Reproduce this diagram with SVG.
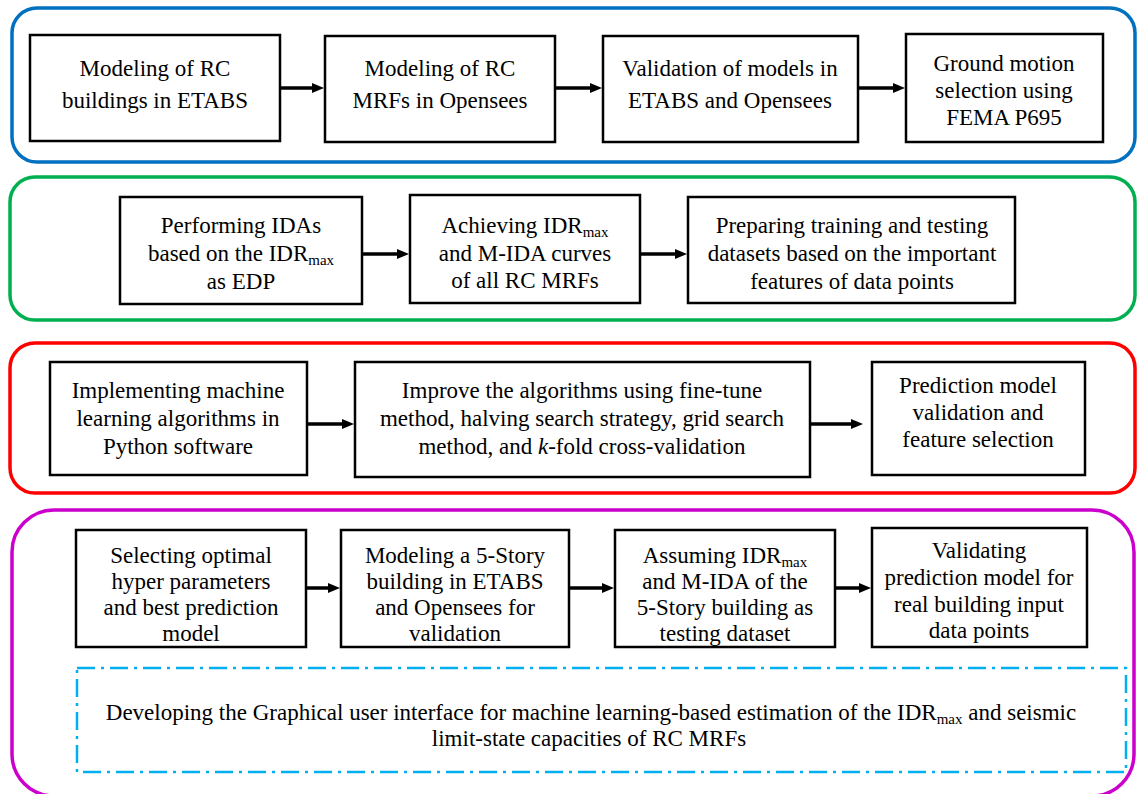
<svg xmlns="http://www.w3.org/2000/svg" width="1137" height="794" viewBox="0 0 1137 794">
<defs>
<style>
.panel{fill:none;stroke-width:3.5}
.box{fill:#fff;stroke:#000;stroke-width:2.5}
.t text{font-size:23px;fill:#000;text-anchor:middle}
.sub{font-size:15px}
.conn line{stroke:#000;stroke-width:3.5}
</style>
<marker id="ah" markerWidth="12" markerHeight="12" refX="1" refY="5" orient="auto" markerUnits="userSpaceOnUse" viewBox="0 0 12 10">
<path d="M0,0 L12,5 L0,10 z" fill="#000"/>
</marker>
</defs>
<rect width="1137" height="794" fill="#fff"/>
<g id="panels">
<rect class="panel" x="12" y="8" width="1123" height="154" rx="25" stroke="#0070C0"/>
<rect class="panel" x="10" y="177" width="1125" height="143" rx="25" stroke="#00B050"/>
<rect class="panel" x="10" y="343" width="1125" height="150" rx="25" stroke="#FF0000"/>
<rect class="panel" x="12" y="510" width="1122" height="286" rx="42" stroke="#CC00CC"/>
</g>
<g class="t" font-family="'Liberation Serif', 'DejaVu Serif', serif">
<g id="A1"><rect class="box" x="30" y="35" width="250" height="106"/><text x="155" y="76">Modeling of RC</text><text x="155" y="108">buildings in ETABS</text></g>
<g id="A2"><rect class="box" x="325" y="36" width="230" height="106"/><text x="440" y="76">Modeling of RC</text><text x="440" y="108">MRFs in Opensees</text></g>
<g id="A3"><rect class="box" x="603" y="36" width="255" height="106"/><text x="730" y="76">Validation of models in</text><text x="730" y="108">ETABS and Opensees</text></g>
<g id="A4"><rect class="box" x="906" y="34" width="197" height="108"/><text x="1004" y="71">Ground motion</text><text x="1004" y="98">selection using</text><text x="1004" y="125">FEMA P695</text></g>
<g id="B1"><rect class="box" x="120" y="197" width="242" height="107"/><text x="241" y="233">Performing IDAs</text><text x="241" y="261">based on the IDR<tspan class="sub" dy="4">max</tspan></text><text x="241" y="289">as EDP</text></g>
<g id="B2"><rect class="box" x="410" y="195" width="230" height="108"/><text x="525" y="233">Achieving IDR<tspan class="sub" dy="4">max</tspan></text><text x="525" y="261">and M-IDA curves</text><text x="525" y="288">of all RC MRFs</text></g>
<g id="B3"><rect class="box" x="688" y="197" width="327" height="106"/><text x="852" y="233">Preparing training and testing</text><text x="852" y="261">datasets based on the important</text><text x="852" y="289">features of data points</text></g>
<g id="C1"><rect class="box" x="50" y="362" width="257" height="113"/><text x="178" y="398">Implementing machine</text><text x="178" y="426">learning algorithms in</text><text x="178" y="454">Python software</text></g>
<g id="C2"><rect class="box" x="355" y="362" width="455" height="115"/><text x="582" y="398">Improve the algorithms using fine-tune</text><text x="582" y="426">method, halving search strategy, grid search</text><text x="582" y="454">method, and <tspan font-style="italic">k</tspan>-fold cross-validation</text></g>
<g id="C3"><rect class="box" x="872" y="362" width="213" height="113"/><text x="978" y="393">Prediction model</text><text x="978" y="420">validation and</text><text x="978" y="447">feature selection</text></g>
<g id="D1"><rect class="box" x="76" y="530" width="230" height="117"/><text x="191" y="563">Selecting optimal</text><text x="191" y="589">hyper parameters</text><text x="191" y="615">and best prediction</text><text x="191" y="641">model</text></g>
<g id="D2"><rect class="box" x="341" y="530" width="228" height="117"/><text x="455" y="563">Modeling a 5-Story</text><text x="455" y="589">building in ETABS</text><text x="455" y="615">and Opensees for</text><text x="455" y="641">validation</text></g>
<g id="D3"><rect class="box" x="615" y="530" width="220" height="117"/><text x="725" y="563">Assuming IDR<tspan class="sub" dy="4">max</tspan></text><text x="725" y="589">and M-IDA of the</text><text x="725" y="615">5-Story building as</text><text x="725" y="641">testing dataset</text></g>
<g id="D4"><rect class="box" x="872" y="528" width="215" height="119"/><text x="979" y="558">Validating</text><text x="979" y="585">prediction model for</text><text x="979" y="612">real building input</text><text x="979" y="638">data points</text></g>
<g id="E1"><rect x="77" y="668" width="1049" height="104" fill="none" stroke="#00B0F0" stroke-width="2.5" stroke-dasharray="18,6,3,6"/><text x="591" y="720">Developing the Graphical user interface for machine learning-based estimation of the IDR<tspan class="sub" dy="4">max</tspan><tspan dy="-4"> and seismic</tspan></text><text x="589" y="746">limit-state capacities of RC MRFs</text></g>
</g>
<g class="conn" id="connectors">
<line x1="280" y1="88" x2="313" y2="88" marker-end="url(#ah)"/>
<line x1="555" y1="88" x2="591" y2="88" marker-end="url(#ah)"/>
<line x1="858" y1="88" x2="894" y2="88" marker-end="url(#ah)"/>
<line x1="362" y1="254" x2="398" y2="254" marker-end="url(#ah)"/>
<line x1="640" y1="254" x2="676" y2="254" marker-end="url(#ah)"/>
<line x1="307" y1="424" x2="343" y2="424" marker-end="url(#ah)"/>
<line x1="810" y1="424" x2="852" y2="424" marker-end="url(#ah)"/>
<line x1="306" y1="588" x2="329" y2="588" marker-end="url(#ah)"/>
<line x1="569" y1="588" x2="603" y2="588" marker-end="url(#ah)"/>
<line x1="835" y1="588" x2="860" y2="588" marker-end="url(#ah)"/>
</g>
</svg>
